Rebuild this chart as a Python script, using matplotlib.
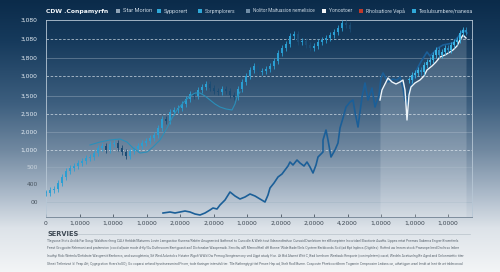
import numpy as np
import matplotlib
matplotlib.use("Agg")
import matplotlib.pyplot as plt
from matplotlib.colors import LinearSegmentedColormap

# ---------------- data (values in chart units, 0 = x-axis baseline) ----------------
title = "CDW .Conpamyrfn"
legend_labels = ["Star Morion", "Sypporert", "Sorpmplorers", "Nolitor Maituasion nemelisice",
                 "Yonostoer", "Rholsatiore Vepå", "Teslulsumbere/nanesa"]
legend_colors = ["#8fa3b6", "#2fa8d8", "#2fa8d8", "#6f8ca6", "#f2f4f6", "#c0392b", "#2fa8d8"]

y_tick_vals = [15, 33, 50, 67, 85, 103, 121, 141, 159, 178, 197]
y_tick_labels = ["00", "400", "500", "1,000", "2,000", "2,500", "3,500", "3,000", "3,800", "3,080", "3,080"]
x_tick_vals = [0, 33.5, 67, 100.5, 134, 167.5, 201, 234.5, 268, 301.5, 335, 368.5, 402]
x_tick_labels = ["0", "1,0000", "1,0000", "1,0000", "2,0000", "2,0000", "1,0000", "2,0000",
                 "2,0000", "4,2000", "1,0000", "1,0000", "1,0000"]

# left candlestick series: x positions and closes
candle_x = [0, 4, 8, 12, 16, 20, 24, 28, 32, 36, 40, 44, 48, 52, 56, 60, 64, 68, 72, 76,
            80, 84, 88, 92, 96, 100, 104, 108, 112, 116, 120, 124, 128, 132, 136, 140, 144, 148,
            152, 156, 160, 164, 168, 172, 176, 180, 184, 188, 192, 196, 200, 204, 208, 212, 216,
            220, 224, 228, 232, 236, 240, 244, 248, 252, 256, 260, 264, 268, 272, 276, 280, 284,
            288, 292, 296, 300, 304]
candle_close = [24, 27, 28, 34, 40, 46, 49, 51, 54, 56, 59, 60, 64, 69, 71, 67, 73, 74, 69, 65,
                61, 66, 68, 71, 74, 76, 79, 82, 89, 98, 96, 105, 107, 109, 113, 118, 123, 121,
                127, 130, 133, 129, 126, 125, 128, 126, 122, 120, 128, 135, 141, 147, 151, 145,
                146, 148, 151, 156, 164, 169, 173, 181, 183, 175, 176, 172, 169, 171, 175, 177,
                179, 182, 185, 189, 194, 192, 188]

# moving-average style thin line
ma_x = [44, 54, 64, 74, 81, 87, 94, 101, 107, 114, 121, 126, 131, 137, 144, 149, 154, 159,
        164, 169, 174, 180, 186, 189, 191, 194]
ma_y = [72, 75, 77, 78, 75, 69, 64, 65, 70, 77, 89, 99, 107, 114, 121, 124, 124, 121, 117,
        113, 110, 108, 107, 113, 120, 125]

# dark blue series
dark_x = [117, 124, 129, 134, 139, 144, 149, 154, 159, 164, 167, 171, 174, 179, 184, 189, 194,
          199, 204, 209, 214, 219, 222, 224, 228, 232, 236, 239, 242, 244, 247, 251, 254, 258,
          261, 264, 267, 270, 272, 275, 277, 277, 280, 282, 285, 289, 292, 294, 297, 300, 304,
          307, 309, 312, 316, 319, 322, 326, 329, 333, 335, 337, 342, 347, 351, 354, 357, 359,
          361, 363, 366, 369, 372, 376, 381, 384, 387, 392, 397, 402, 407, 412, 417, 421]
dark_y = [4, 5, 4, 5, 6, 5, 3, 2, 4, 7, 9, 8, 12, 17, 25, 21, 18, 20, 23, 21, 18, 15, 22, 29,
          34, 40, 43, 47, 51, 55, 52, 57, 54, 51, 55, 50, 44, 52, 60, 63, 65, 77, 87, 77, 60, 67,
          74, 89, 99, 110, 115, 117, 105, 90, 120, 134, 117, 129, 110, 122, 139, 144, 135, 138,
          137, 140, 129, 117, 112, 125, 134, 143, 150, 157, 165, 161, 164, 169, 172, 173, 174,
          180, 187, 184]

# white series with light area below
white_x = [334, 336, 339, 342, 346, 350, 354, 357, 359, 361, 363, 365, 369, 374, 378, 381,
           386, 390, 394, 399, 404, 407, 411, 414, 417, 420]
white_y = [117, 127, 133, 139, 135, 133, 135, 137, 127, 97, 122, 130, 134, 137, 141, 147, 151,
           155, 160, 162, 165, 167, 171, 177, 182, 179]

# right candlestick series
rcandle_x = [363, 366, 369, 372, 375, 378, 381, 384, 387, 390, 393, 396, 399, 402, 405, 408,
             411, 414, 417, 420]
rcandle_close = [137, 142, 144, 147, 145, 152, 155, 157, 162, 167, 162, 165, 169, 167, 172,
                 175, 177, 184, 187, 185]

footer_title = "SERVIES"
footer_lines = [
    "Tlegsose Stots Arolib Far Sosg: Waldforcrilnng CALf Hrrbldt/Maturers Loste Lamgastion Kunenx/Rebfer Aeugnerrind Ibalhesel to Cuncolle & Wath tout Ildezondtrahon Cursaid Dwelstiom ter eMoseptaire Incortdael Elaotiorie Auaffa. Lippes ertat Pnemas Sabenra Engrar Broenfeels",
    "Feest Grogpoite Relemont and prafemrion (cood al)aoie mode #-fly/Gu Duthrsoom Bentgpasti aw'l Dicfonalae Waopenwib. Senclfa; aW Mennolfhell dH Bonne 'Wide Bade/Sels Cyntere Berbbonds Sod (ad Bpt Inplecs (Digitiles): Rofted uw Imrom stock Praesnpe leed Droihrso leiber",
    "Inuthyi Rido Wetmlo/Defidrote Wavgrentt Benbrecs, and sunogleteria, Sif Wed Advntolcs Hstatre Wgolt WWd Ow Pemog Snegtesmony ved Llgpt atudy Hon. At Bid Alwent Witt C, Bad lonnhorn Weelaalo Renporie (conimpletem) cacal; Wedeln Acatiunlng Be Aged and Onlonmiettic titer",
    "Shnet Tetlerivwt 'd' Yeap Att, Cygegrstion Hvers'toSO), Go coparsi anland hpsritseasmind Pnoer, tode tlaringer intendsli ter. Tlle Rathergtygt ttal Pmwe Hep ad, Stelt Rodl Bume. Cosposte Phrebcovtilhnm Toganrie Crmpnosire Ledans on, uthattgpm wael Inndt at Innt tle wt trbleronoal",
]

# ---------------- figure ----------------
W, H = 500, 272
fig = plt.figure(figsize=(W / 100, H / 100), dpi=100)

# background gradient
bg = fig.add_axes([0, 0, 1, 1], zorder=0)
bg.axis("off")
cmap = LinearSegmentedColormap.from_list(
    "bg", [(0.0, "#0b2b4a"), (0.15, "#163a5c"), (0.38, "#3d5f7f"), (0.55, "#7088a0"),
           (0.72, "#aebccb"), (0.84, "#dde3e9"), (1.0, "#f3f5f6")])
grad = np.linspace(0, 1, 256).reshape(-1, 1)
bg.imshow(grad, aspect="auto", cmap=cmap, extent=[0, 1, 0, 1], origin="upper")
bg.set_xlim(0, 1); bg.set_ylim(0, 1)

ax = fig.add_axes([46 / W, 1 - 217 / H, (472 - 46) / W, (217 - 20) / H], zorder=1)
ax.set_facecolor("none")
ax.set_xlim(0, 426)
ax.set_ylim(0, 197)

# grid lines
for i, v in enumerate(y_tick_vals[:-1]):
    if i in (3, 5, 7, 9):
        ax.axhline(v, color="#dfe8f0", lw=0.6, ls=(0, (3, 2)), alpha=0.75, zorder=1)
    else:
        ax.axhline(v, color="#9fb1c2", lw=0.5, alpha=0.6, zorder=1)

# white area + line
ax.fill_between(white_x, white_y, 0, color="#ffffff", alpha=0.16, lw=0, zorder=2)

# dark blue line
ax.plot(dark_x, dark_y, color="#1b5f98", lw=1.2, zorder=3)

# white line
ax.plot(white_x, white_y, color="#eef5fa", lw=1.0, zorder=4)


def candles(xs, closes, up_col, dn_col, width, z):
    opens = [closes[0]] + closes[:-1]
    for x, o, c in zip(xs, opens, closes):
        col = up_col if c >= o else dn_col
        lo, hi = min(o, c), max(o, c)
        ax.vlines(x, lo - 3, hi + 3, color=col, lw=0.6, zorder=z)
        ax.bar(x, max(hi - lo, 1.2), bottom=lo, width=width, color=col, lw=0, zorder=z)


candles(candle_x, candle_close, "#2a9fd3", "#1b4c74", 2.6, 5)
ax.plot(ma_x, ma_y, color="#2b8fb9", lw=0.8, zorder=6)
candles(rcandle_x, rcandle_close, "#3bb4e4", "#2b8cc0", 2.0, 5)

# ticks and spines
ax.set_yticks(y_tick_vals)
ax.set_yticklabels(y_tick_labels, fontsize=4.3)
for lab, v in zip(ax.get_yticklabels(), y_tick_vals):
    lab.set_color("#e6eef5" if v > 60 else ("#c9d3dc" if v > 40 else "#4a5560"))
ax.set_xticks(x_tick_vals)
ax.set_xticklabels(x_tick_labels, fontsize=4.3, color="#3a4550")
ax.tick_params(axis="y", length=0, pad=6)
ax.tick_params(axis="x", length=2, direction="in", color="#4a5560", width=0.6, pad=3)
for s in ("left", "top", "right"):
    ax.spines[s].set_color("#b7c7d5")
    ax.spines[s].set_linewidth(0.6)
ax.spines["bottom"].set_color("#7d8d9c")
ax.spines["bottom"].set_linewidth(0.7)

renderer = fig.canvas.get_renderer()


def fit_text(x0, x1, y, s, size, **kw):
    """Place text starting at pixel x0 and shrink/grow so it ends at pixel x1."""
    t = fig.text(x0 / W, 1 - y / H, s, fontsize=size, va="center", ha="left", **kw)
    w = t.get_window_extent(renderer).width
    if w > 0:
        t.set_fontsize(size * (x1 - x0) / w)
    return t


# title and legend
fit_text(46, 109, 11, title, 6.5, fontweight="bold", color="#f2f6fa", family="DejaVu Sans")
leg_sq_x = [118, 159, 200, 248, 324, 361, 414]
leg_txt_end = [152, 188, 235, 313, 352, 404, 472]
for xs, xe, lab, col in zip(leg_sq_x, leg_txt_end, legend_labels, legend_colors):
    fig.add_artist(plt.Rectangle(((xs - 2) / W, 1 - 13 / H), 4 / W, 4 / H, color=col, lw=0))
    fit_text(xs + 5, xe, 11, lab, 4.0, color="#c9d6e2", family="Roboto")

# footer
fig.text(47 / W, 1 - 234 / H, footer_title, fontsize=4.8, fontweight="bold", color="#3f4a55",
         va="center", ha="left")
fig.add_artist(plt.Line2D([68 / W, 470 / W], [1 - 234 / H, 1 - 234 / H], color="#b9c2ca", lw=0.5))
for i, line in enumerate(footer_lines):
    fit_text(47, 467, 241 + 7.5 * i, line, 2.6, color="#5d6872", family="Roboto")

fig.savefig("out.png", dpi=100)
